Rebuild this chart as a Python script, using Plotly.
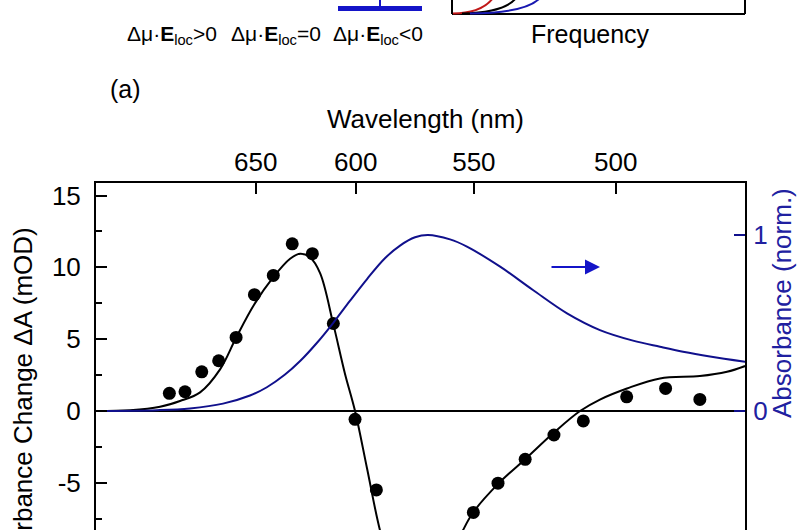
import plotly.graph_objects as go

# ---------------- data ----------------
# measured Stark signal: wavelength (nm) and absorbance change (mOD)
dot_wl = [700.4, 690.7, 680.6, 670.7, 660.8, 650.7, 640.6, 630.8, 620.7, 610.5,
          600.3, 590.6, 550.2, 540.8, 530.8, 520.6, 510.6, 496.5, 484.5, 474.4]
dot_dA = [1.23, 1.34, 2.73, 3.50, 5.12, 8.10, 9.44, 11.64, 10.95, 6.09,
          -0.58, -5.49, -7.06, -5.02, -3.36, -1.67, -0.69, 0.99, 1.57, 0.81]

# fitted Stark curve (black line)
fit_wl = [749.8, 726.0, 706.3, 693.8, 681.6, 669.9, 660.8, 650.9, 640.7, 631.9,
          626.8, 621.9, 616.9, 610.6, 605.0, 600.3, 594.8, 589.0, 582.4, 575.9,
          569.6, 563.4, 558.6, 554.2, 550.3, 540.4, 530.5, 520.6, 511.7, 505.1,
          496.4, 486.2, 474.4, 466.7, 461.7]
fit_dA = [0.0, 0.06, 0.3, 0.7, 1.3, 2.9, 5.1, 7.4, 9.3, 10.6,
          10.95, 10.7, 9.6, 6.1, 2.6, 0.0, -4.0, -8.3, -11.8, -13.8,
          -14.3, -12.5, -10.0, -8.28, -7.06, -5.0, -3.3, -1.5, 0.0, 0.8,
          1.57, 2.27, 2.43, 2.73, 3.13]

# normalised absorbance (blue line, right axis)
abs_wl = [749.8, 708.3, 687.7, 668.2, 653.1, 644.0, 634.5, 626.8, 618.4, 610.6,
          602.6, 594.8, 586.8, 580.2, 573.8, 568.4, 559.4, 552.7, 540.0, 528.0,
          516.1, 505.1, 494.5, 486.2, 479.3, 471.5, 461.7]
abs_v = [0.0, 0.005, 0.015, 0.042, 0.088, 0.135, 0.207, 0.284, 0.388, 0.5,
         0.627, 0.75, 0.868, 0.94, 0.987, 1.0, 0.975, 0.934, 0.82, 0.6875,
         0.555, 0.46, 0.40, 0.365, 0.337, 0.31, 0.28]

wl_ticks = [650, 600, 550, 500]
left_ticks = [15, 10, 5, 0, -5]
right_ticks = [0, 1]

# ---------------- helpers ----------------
def wn(wl_list):
    """wavelength (nm) -> wavenumber (cm^-1); the hidden bottom axis is linear in frequency"""
    return [1e7 / w for w in wl_list]

L, R, T, B = 96, 745, 183, 530
def PX(x):
    return (x - L) / (R - L)
def PY(y):
    return (B - y) / (B - T)

FONT = "Liberation Sans, Arial, sans-serif"
NAVY = "#10108c"
BLUE_TXT = "#2020a0"
BRIGHT = "#1414c8"

fig = go.Figure()

fig.add_trace(go.Scatter(
    x=wn(abs_wl), y=abs_v, mode="lines", yaxis="y2",
    line=dict(color=NAVY, width=2, shape="spline", smoothing=1.0),
    showlegend=False, hoverinfo="skip"))

fig.add_trace(go.Scatter(
    x=wn(fit_wl), y=fit_dA, mode="lines",
    line=dict(color="black", width=2, shape="spline", smoothing=1.0),
    showlegend=False, hoverinfo="skip"))

fig.add_trace(go.Scatter(
    x=wn(dot_wl), y=dot_dA, mode="markers",
    marker=dict(color="black", size=13, line=dict(width=0)),
    showlegend=False))

fig.update_layout(
    width=800, height=530,
    margin=dict(l=L, r=800 - R, t=T, b=0, pad=0),
    paper_bgcolor="white", plot_bgcolor="white",
    font=dict(family=FONT, size=26, color="black"),
    xaxis=dict(
        side="top", range=[13337, 21658],
        tickmode="array", tickvals=wn(wl_ticks), ticktext=[str(t) for t in wl_ticks],
        ticks="inside", ticklen=11, tickwidth=2, tickcolor="black",
        showline=True, linecolor="black", linewidth=2, mirror=False,
        showgrid=False, zeroline=False, automargin=False,
        ticklabelstandoff=0,
        tickfont=dict(size=26, family=FONT, color="black"),
    ),
    yaxis=dict(
        range=[-8.28, 15.87],
        tickmode="array", tickvals=left_ticks, ticktext=[str(t) for t in left_ticks],
        ticks="inside", ticklen=11, tickwidth=2, tickcolor="black",
        minor=dict(ticks="inside", ticklen=6, tickwidth=2, tickcolor="black",
                   tickvals=[12.5, 7.5, 2.5, -2.5, -7.5]),
        showline=True, linecolor="black", linewidth=2, mirror=False,
        showgrid=False, zeroline=True, zerolinecolor="black", zerolinewidth=2,
        automargin=False, ticklabelstandoff=8,
        tickfont=dict(size=26, family=FONT, color="black"),
    ),
    yaxis2=dict(
        overlaying="y", side="right", range=[-0.676, 1.2955],
        tickmode="array", tickvals=right_ticks, ticktext=[str(t) for t in right_ticks],
        ticks="inside", ticklen=11, tickwidth=2, tickcolor=NAVY,
        showline=True, linecolor="black", linewidth=2,
        showgrid=False, zeroline=False, automargin=False,
        ticklabelstandoff=1,
        tickfont=dict(size=26, family=FONT, color=BLUE_TXT),
    ),
)

ann = []
# axis titles
ann.append(dict(text="Wavelength (nm)", x=PX(425), y=PY(119), xref="paper", yref="paper",
                xanchor="center", yanchor="middle", showarrow=False,
                font=dict(size=26, family=FONT, color="black")))
ann.append(dict(text="Absorbance Change ΔA (mOD)", x=PX(23), y=PY(409), xref="paper", yref="paper",
                xanchor="center", yanchor="middle", textangle=-90, showarrow=False,
                font=dict(size=26, family=FONT, color="black")))
ann.append(dict(text="Absorbance (norm.)", x=PX(782), y=PY(303), xref="paper", yref="paper",
                xanchor="center", yanchor="middle", textangle=-90, showarrow=False,
                font=dict(size=26, family=FONT, color=BLUE_TXT)))
# panel label
ann.append(dict(text="(a)", x=PX(125), y=PY(89), xref="paper", yref="paper",
                xanchor="center", yanchor="middle", showarrow=False,
                font=dict(size=25, family=FONT, color="black")))
# schematic labels (cropped inset on top)
ann.append(dict(text="Frequency", x=PX(590), y=PY(34), xref="paper", yref="paper",
                xanchor="center", yanchor="middle", showarrow=False,
                font=dict(size=25, family=FONT, color="black")))
for cx, sign in [(172, "&gt;0"), (276, "=0"), (378, "&lt;0")]:
    ann.append(dict(text="Δμ·<b>E</b><sub>loc</sub>" + sign, x=PX(cx), y=PY(35),
                    xref="paper", yref="paper", xanchor="center", yanchor="middle",
                    showarrow=False, font=dict(size=21, family=FONT, color="black")))
# blue arrow pointing to right axis
ann.append(dict(text="", x=PX(600), y=PY(267), xref="paper", yref="paper",
                ax=-50, ay=0, showarrow=True, arrowhead=2, arrowsize=1.5,
                arrowwidth=2, arrowcolor=BRIGHT, standoff=0))
fig.update_layout(annotations=ann)

def seg(x0, y0, x1, y1, color, width):
    return dict(type="line", xref="paper", yref="paper",
                x0=PX(x0), y0=PY(y0), x1=PX(x1), y1=PY(y1),
                line=dict(color=color, width=width), layer="above")

def curve(p0, c, p1, color):
    path = "M {},{} Q {},{} {},{}".format(PX(p0[0]), PY(p0[1]), PX(c[0]), PY(c[1]), PX(p1[0]), PY(p1[1]))
    return dict(type="path", xref="paper", yref="paper", path=path,
                line=dict(color=color, width=2), layer="above")

shapes = [
    # inset box (cropped)
    seg(452, -2, 452, 14, "black", 2),
    seg(452, 14, 745, 14, "black", 2),
    seg(745, 14, 745, -2, "black", 2),
    curve((453, 13.5), (482, 13), (493, -2), "#c01818"),
    curve((462, 13.5), (505, 12.5), (516, -2), "black"),
    curve((470, 13.5), (526, 13), (540, -2), "#1818b0"),
    # energy level bar (cropped)
    dict(type="rect", xref="paper", yref="paper", x0=PX(338), x1=PX(422), y0=PY(6), y1=PY(11),
         fillcolor=BRIGHT, line=dict(width=0), layer="above"),
    seg(380, -2, 380, 7, BRIGHT, 2),
]
fig.update_layout(shapes=shapes)

fig.write_html("out.html",
               config={"displayModeBar": False},
               post_script="document.body.style.margin='0';document.body.style.overflow='hidden';")
